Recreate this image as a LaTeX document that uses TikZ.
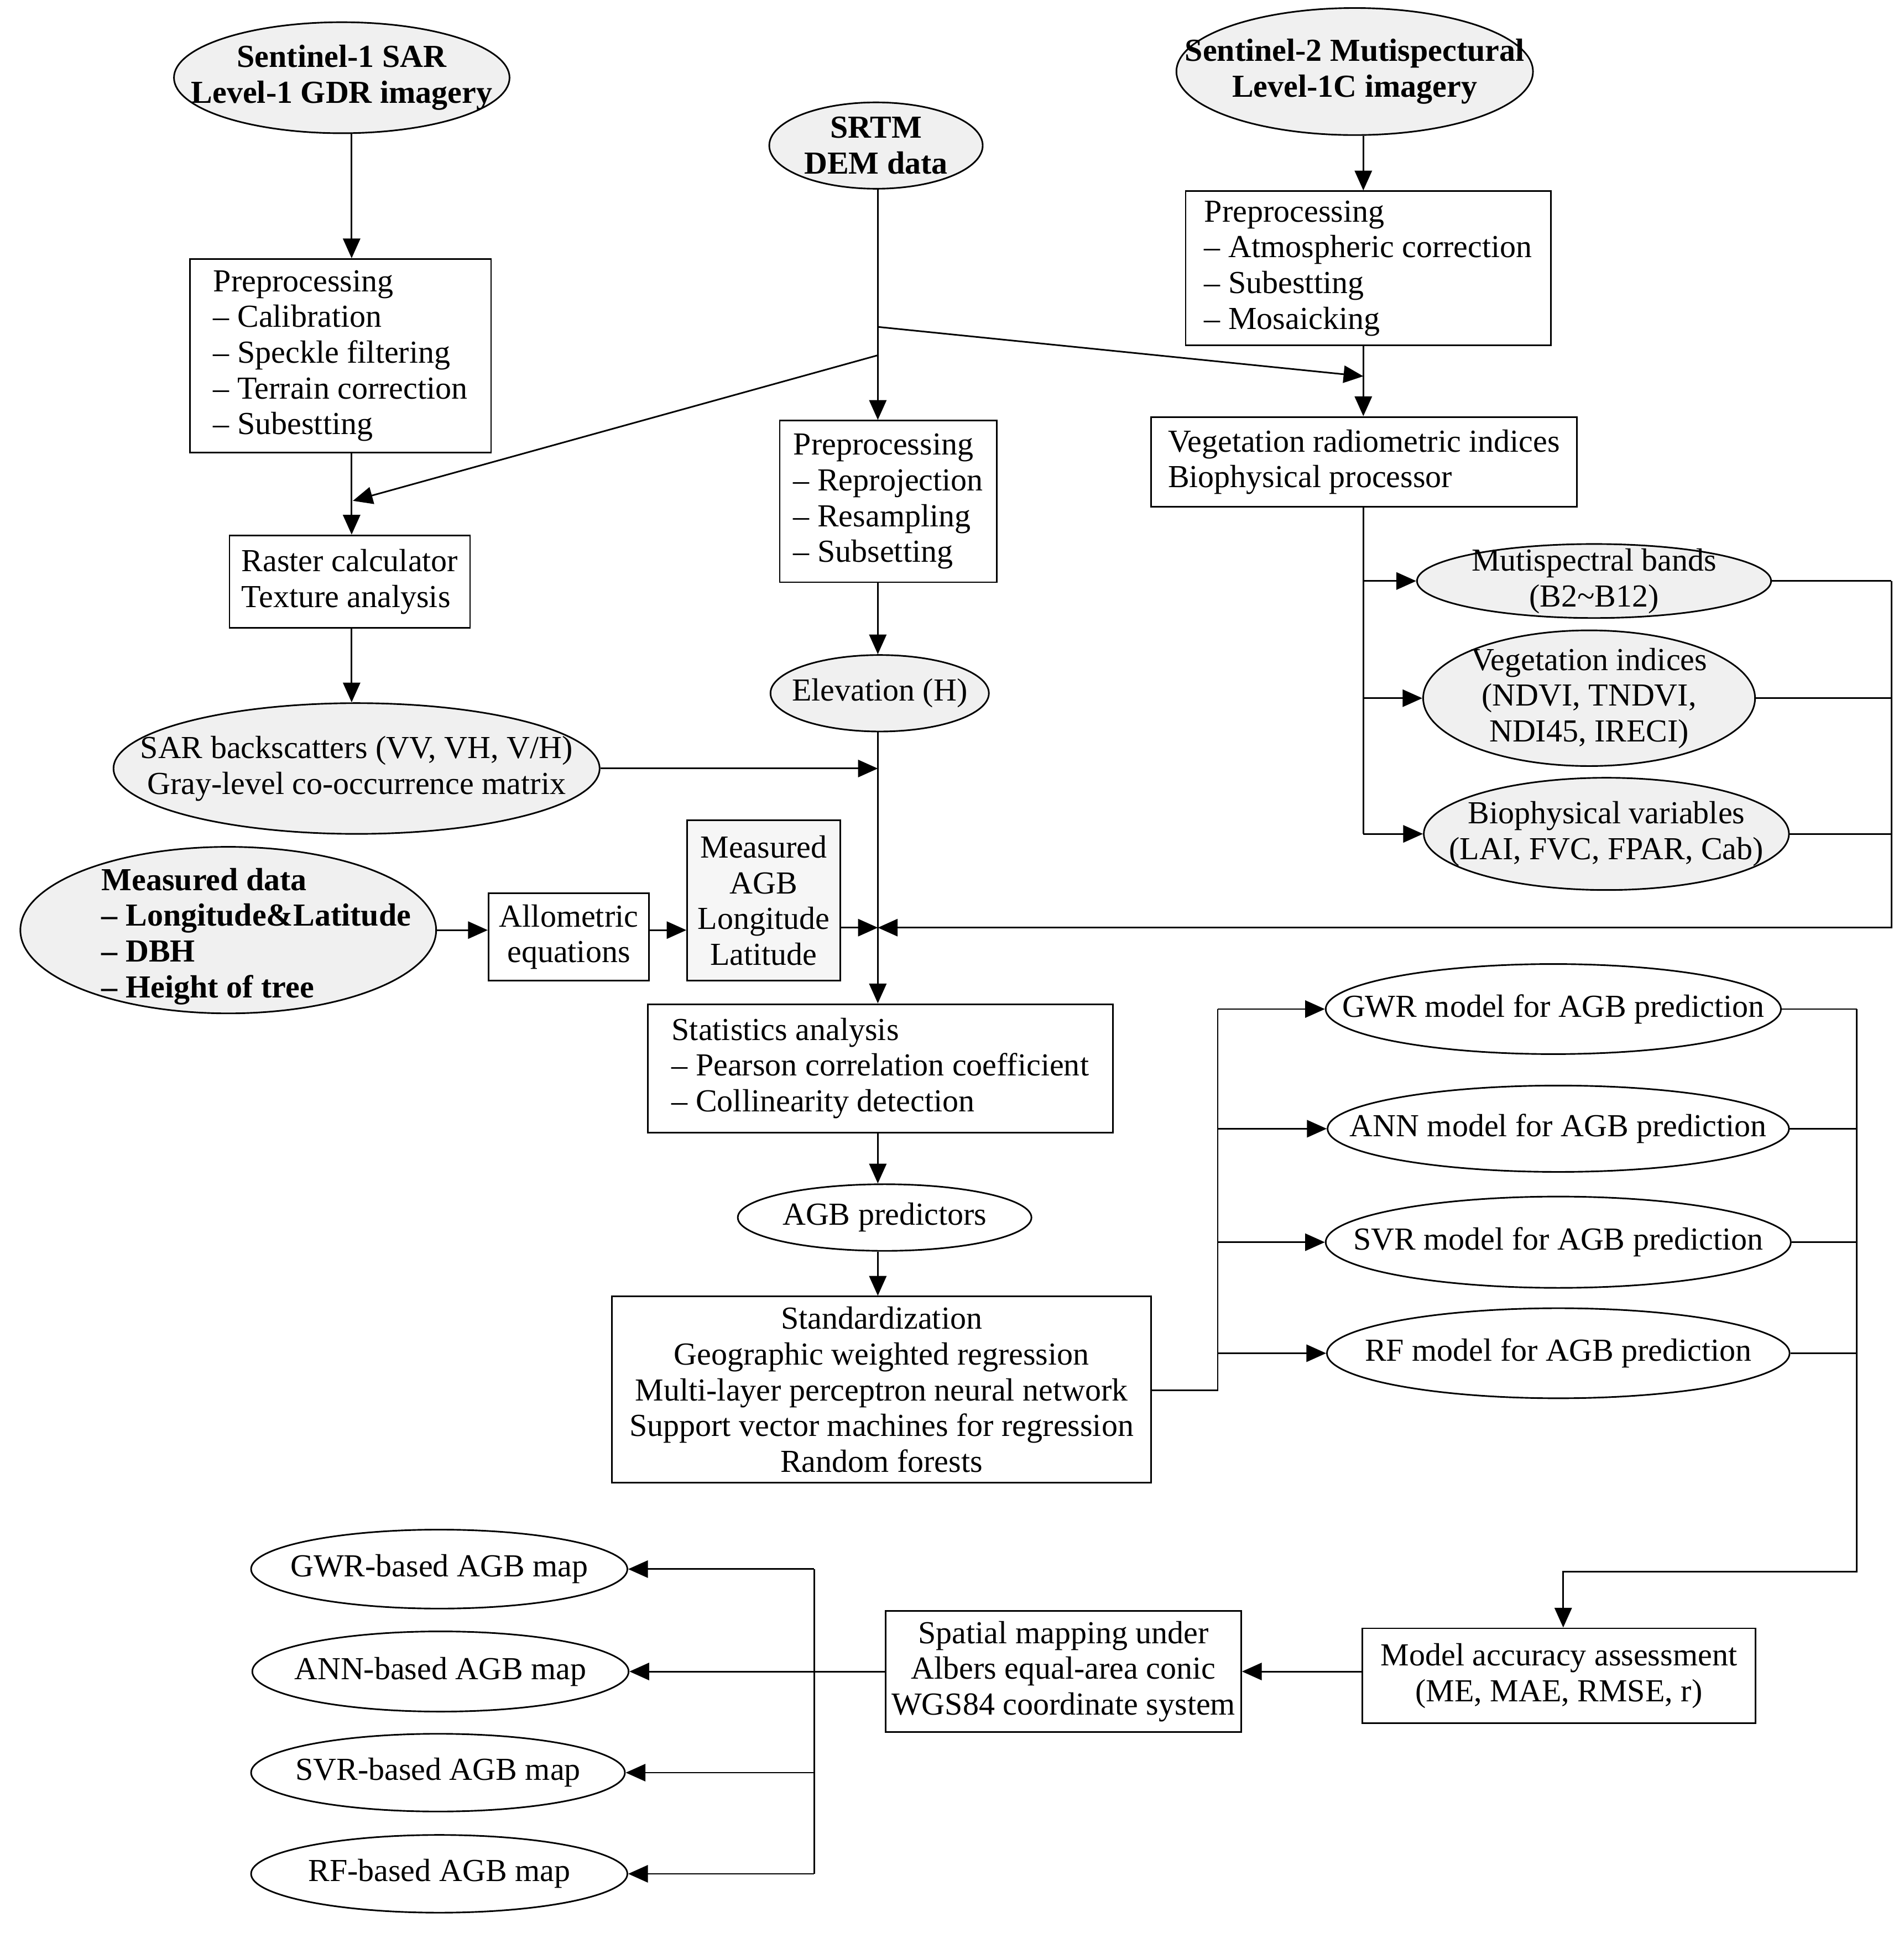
\documentclass[tikz,border=0pt]{standalone}
\usepackage{fontspec}
\setmainfont{Liberation Serif}
\usetikzlibrary{arrows.meta,shapes.geometric}
\begin{document}
\begin{tikzpicture}[x=0.5pt,y=-0.5pt,
 every node/.style={font=\fontsize{13}{14.5}\selectfont},
 bt/.style={font=\fontsize{13}{14.5}\selectfont\bfseries},
 ln/.style={line width=0.65pt},
 arr/.style={ln,-{Triangle[length=8pt,width=7pt]}},
 box/.style={draw,ln,rectangle,inner sep=0pt,align=left},
 cbox/.style={draw,ln,rectangle,inner sep=0pt,align=center},
 ell/.style={draw,ln,ellipse,inner sep=0pt},
 gell/.style={ell,fill=gray!12},
 txt/.style={inner sep=0pt,align=center},
]
\useasboundingbox (0,0) rectangle (1543,1567);

% ---- sources
\node[gell,minimum width=136pt,minimum height=45pt] (s1) at (277,63) {};
\node[txt,bt] (s1t) at (s1) {Sentinel-1 SAR\\Level-1 GDR imagery};
\node[gell,minimum width=86.5pt,minimum height=35pt] (srtm) at (710,118) {};
\node[txt,bt] (srtmt) at (srtm) {SRTM\\DEM data};
\node[gell,minimum width=144.5pt,minimum height=51.5pt] (s2) at (1098,58) {};
\node[txt,bt] (s2t) at (s2) {Sentinel-2 Mutispectural\\Level-1C imagery};

% ---- preprocessing boxes
\node[box,minimum width=122pt,minimum height=78.5pt] (p1) at (276,288.5)
 {Preprocessing\\-- Calibration\\-- Speckle filtering\\-- Terrain correction\\-- Subestting};
\node[box,minimum width=148pt,minimum height=62.5pt] (p2) at (1109,217.5)
 {Preprocessing\\-- Atmospheric correction\\-- Subestting\\-- Mosaicking};
\node[box,minimum width=88pt,minimum height=65.5pt] (p3) at (720,406.5)
 {Preprocessing\\-- Reprojection\\-- Resampling\\-- Subsetting};
\node[box,minimum width=172.5pt,minimum height=36.5pt] (veg) at (1105.5,374.5)
 {Vegetation radiometric indices\\Biophysical processor};
\node[box,minimum width=97.5pt,minimum height=37.5pt] (ras) at (283.5,471.5)
 {Raster calculator\\Texture analysis};

% ---- derived variables
\node[gell,minimum width=88.5pt,minimum height=31pt] (elev) at (713,562) {};
\node[txt] (elevt) at (elev) {Elevation (H)};
\node[gell,minimum width=197pt,minimum height=53pt] (sar) at (289,623) {};
\node[txt] (sart) at (sar) {SAR backscatters (VV, VH, V/H)\\Gray-level co-occurrence matrix};
\node[gell,minimum width=143.5pt,minimum height=30pt] (msb) at (1292,471) {};
\node[txt] (msbt) at (msb) {Mutispectral bands\\(B2\textasciitilde B12)};
\node[gell,minimum width=134.5pt,minimum height=55pt] (vi) at (1288,566) {};
\node[txt] (vit) at (vi) {Vegetation indices\\(NDVI, TNDVI,\\NDI45, IRECI)};
\node[gell,minimum width=148pt,minimum height=45.5pt] (bio) at (1302,676) {};
\node[txt] (biot) at (bio) {Biophysical variables\\(LAI, FVC, FPAR, Cab)};

% ---- measured data
\node[gell,minimum width=168.5pt,minimum height=67.5pt] (md) at (185,754) {};
\node[txt,bt,align=left,anchor=west] (mdt) at (82,759)
 {Measured data\\-- Longitude\&Latitude\\-- DBH\\-- Height of tree};
\node[cbox,minimum width=65pt,minimum height=35.5pt] (allo) at (461,759.5)
 {Allometric\\equations};
\node[cbox,fill=gray!7,minimum width=62pt,minimum height=65pt] (magb) at (619,730)
 {Measured\\AGB\\Longitude\\Latitude};

% ---- analysis
\node[box,minimum width=188.5pt,minimum height=52pt] (stat) at (713.5,866)
 {Statistics analysis\\-- Pearson correlation coefficient\\-- Collinearity detection};
\node[ell,minimum width=119pt,minimum height=27pt] (agbp) at (717,987) {};
\node[txt] (agbpt) at (agbp) {AGB predictors};
\node[cbox,minimum width=218.5pt,minimum height=75.5pt] (std) at (714.5,1126.5)
 {Standardization\\Geographic weighted regression\\Multi-layer perceptron neural network\\Support vector machines for regression\\Random forests};

% ---- models
\node[ell,minimum width=184.5pt,minimum height=36.5pt] (gwr) at (1259,818) {};
\node[txt] (gwrt) at (gwr) {GWR model for AGB prediction};
\node[ell,minimum width=187pt,minimum height=35pt] (ann) at (1263,915) {};
\node[txt] (annt) at (ann) {ANN model for AGB prediction};
\node[ell,minimum width=188.5pt,minimum height=37pt] (svr) at (1263,1007) {};
\node[txt] (svrt) at (svr) {SVR model for AGB prediction};
\node[ell,minimum width=187.5pt,minimum height=36.5pt] (rf) at (1263,1097) {};
\node[txt] (rft) at (rf) {RF model for AGB prediction};

\node[cbox,minimum width=159.5pt,minimum height=38.5pt] (acc) at (1263.5,1358.5)
 {Model accuracy assessment\\(ME, MAE, RMSE, r)};
\node[cbox,minimum width=144pt,minimum height=49pt] (spm) at (862,1355)
 {Spatial mapping under\\Albers equal-area conic\\WGS84 coordinate system};

% ---- maps
\node[ell,minimum width=152.5pt,minimum height=32pt] (gm) at (356,1272) {};
\node[txt] (gmt) at (gm) {GWR-based AGB map};
\node[ell,minimum width=152.5pt,minimum height=32.5pt] (am) at (357,1355) {};
\node[txt] (amt) at (am) {ANN-based AGB map};
\node[ell,minimum width=151.5pt,minimum height=31.5pt] (sm) at (355,1437) {};
\node[txt] (smt) at (sm) {SVR-based AGB map};
\node[ell,minimum width=152.5pt,minimum height=31.5pt] (rm) at (356,1519) {};
\node[txt] (rmt) at (rm) {RF-based AGB map};

% ---- helper coordinates
\coordinate (xa) at (285,0);
\coordinate (xb) at (711.5,0);
\coordinate (xc) at (1105,0);
\coordinate (j1) at (711.5,265);
\coordinate (t1) at (1105,305);
\coordinate (j2) at (711.5,288);
\coordinate (t2) at (286,406);
\coordinate (m) at (711.5,752);
\coordinate (rb) at (1533,752);
\coordinate (lb) at (987,1127);
\coordinate (rb2) at (1505,1274);
\coordinate (kb) at (1267,1274);
\coordinate (lb2) at (660,1355);

% ---- connectors, left column
\draw[arr] (xa |- s1.south) -- (xa |- p1.north);
\draw[arr] (xa |- p1.south) -- (xa |- ras.north);
\draw[arr] (xa |- ras.south) -- (xa |- sar.north);

% ---- SRTM column
\draw[arr] (xb |- srtm.south) -- (xb |- p3.north);
\draw[arr] (j1) -- (t1);
\draw[arr] (j2) -- (t2);
\draw[arr] (xb |- p3.south) -- (xb |- elev.north);
\draw[arr] (xb |- elev.south) -- (xb |- stat.north);
\draw[arr] (sar.east) -- (sar.east -| m);

% ---- Sentinel-2 column
\draw[arr] (xc |- s2.south) -- (xc |- p2.north);
\draw[arr] (xc |- p2.south) -- (xc |- veg.north);
\draw[ln] (xc |- veg.south) -- (xc |- bio.west);
\draw[arr] (xc |- msb.west) -- (msb.west);
\draw[arr] (xc |- vi.west) -- (vi.west);
\draw[arr] (xc |- bio.west) -- (bio.west);
\draw[ln] (msb.east) -- (msb.east -| rb);
\draw[ln] (vi.east) -- (vi.east -| rb);
\draw[ln] (bio.east) -- (bio.east -| rb);
\draw[arr] (msb.east -| rb) -- (rb) -- (m);

% ---- measured data row
\draw[arr] (md.east) -- (md.east -| allo.west);
\draw[arr] (allo.east |- md.east) -- (magb.west |- md.east);
\draw[arr] (magb.east |- m) -- (m);

% ---- analysis column
\draw[arr] (xb |- stat.south) -- (xb |- agbp.north);
\draw[arr] (xb |- agbp.south) -- (xb |- std.north);

% ---- models
\draw[ln] (std.east |- lb) -- (lb) -- (lb |- gwr.west);
\draw[arr] (lb |- gwr.west) -- (gwr.west);
\draw[arr] (lb |- ann.west) -- (ann.west);
\draw[arr] (lb |- svr.west) -- (svr.west);
\draw[arr] (lb |- rf.west) -- (rf.west);
\draw[ln] (gwr.east) -- (gwr.east -| rb2);
\draw[ln] (ann.east) -- (ann.east -| rb2);
\draw[ln] (svr.east) -- (svr.east -| rb2);
\draw[ln] (rf.east) -- (rf.east -| rb2);
\draw[arr] (gwr.east -| rb2) -- (rb2) -- (kb) -- (kb |- acc.north);

% ---- mapping
\draw[arr] (acc.west |- spm.east) -- (spm.east);
\draw[ln] (spm.west) -- (lb2);
\draw[ln] (lb2 |- gm.east) -- (lb2 |- rm.east);
\draw[arr] (lb2 |- gm.east) -- (gm.east);
\draw[arr] (lb2 |- am.east) -- (am.east);
\draw[arr] (lb2 |- sm.east) -- (sm.east);
\draw[arr] (lb2 |- rm.east) -- (rm.east);
\end{tikzpicture}
\end{document}
